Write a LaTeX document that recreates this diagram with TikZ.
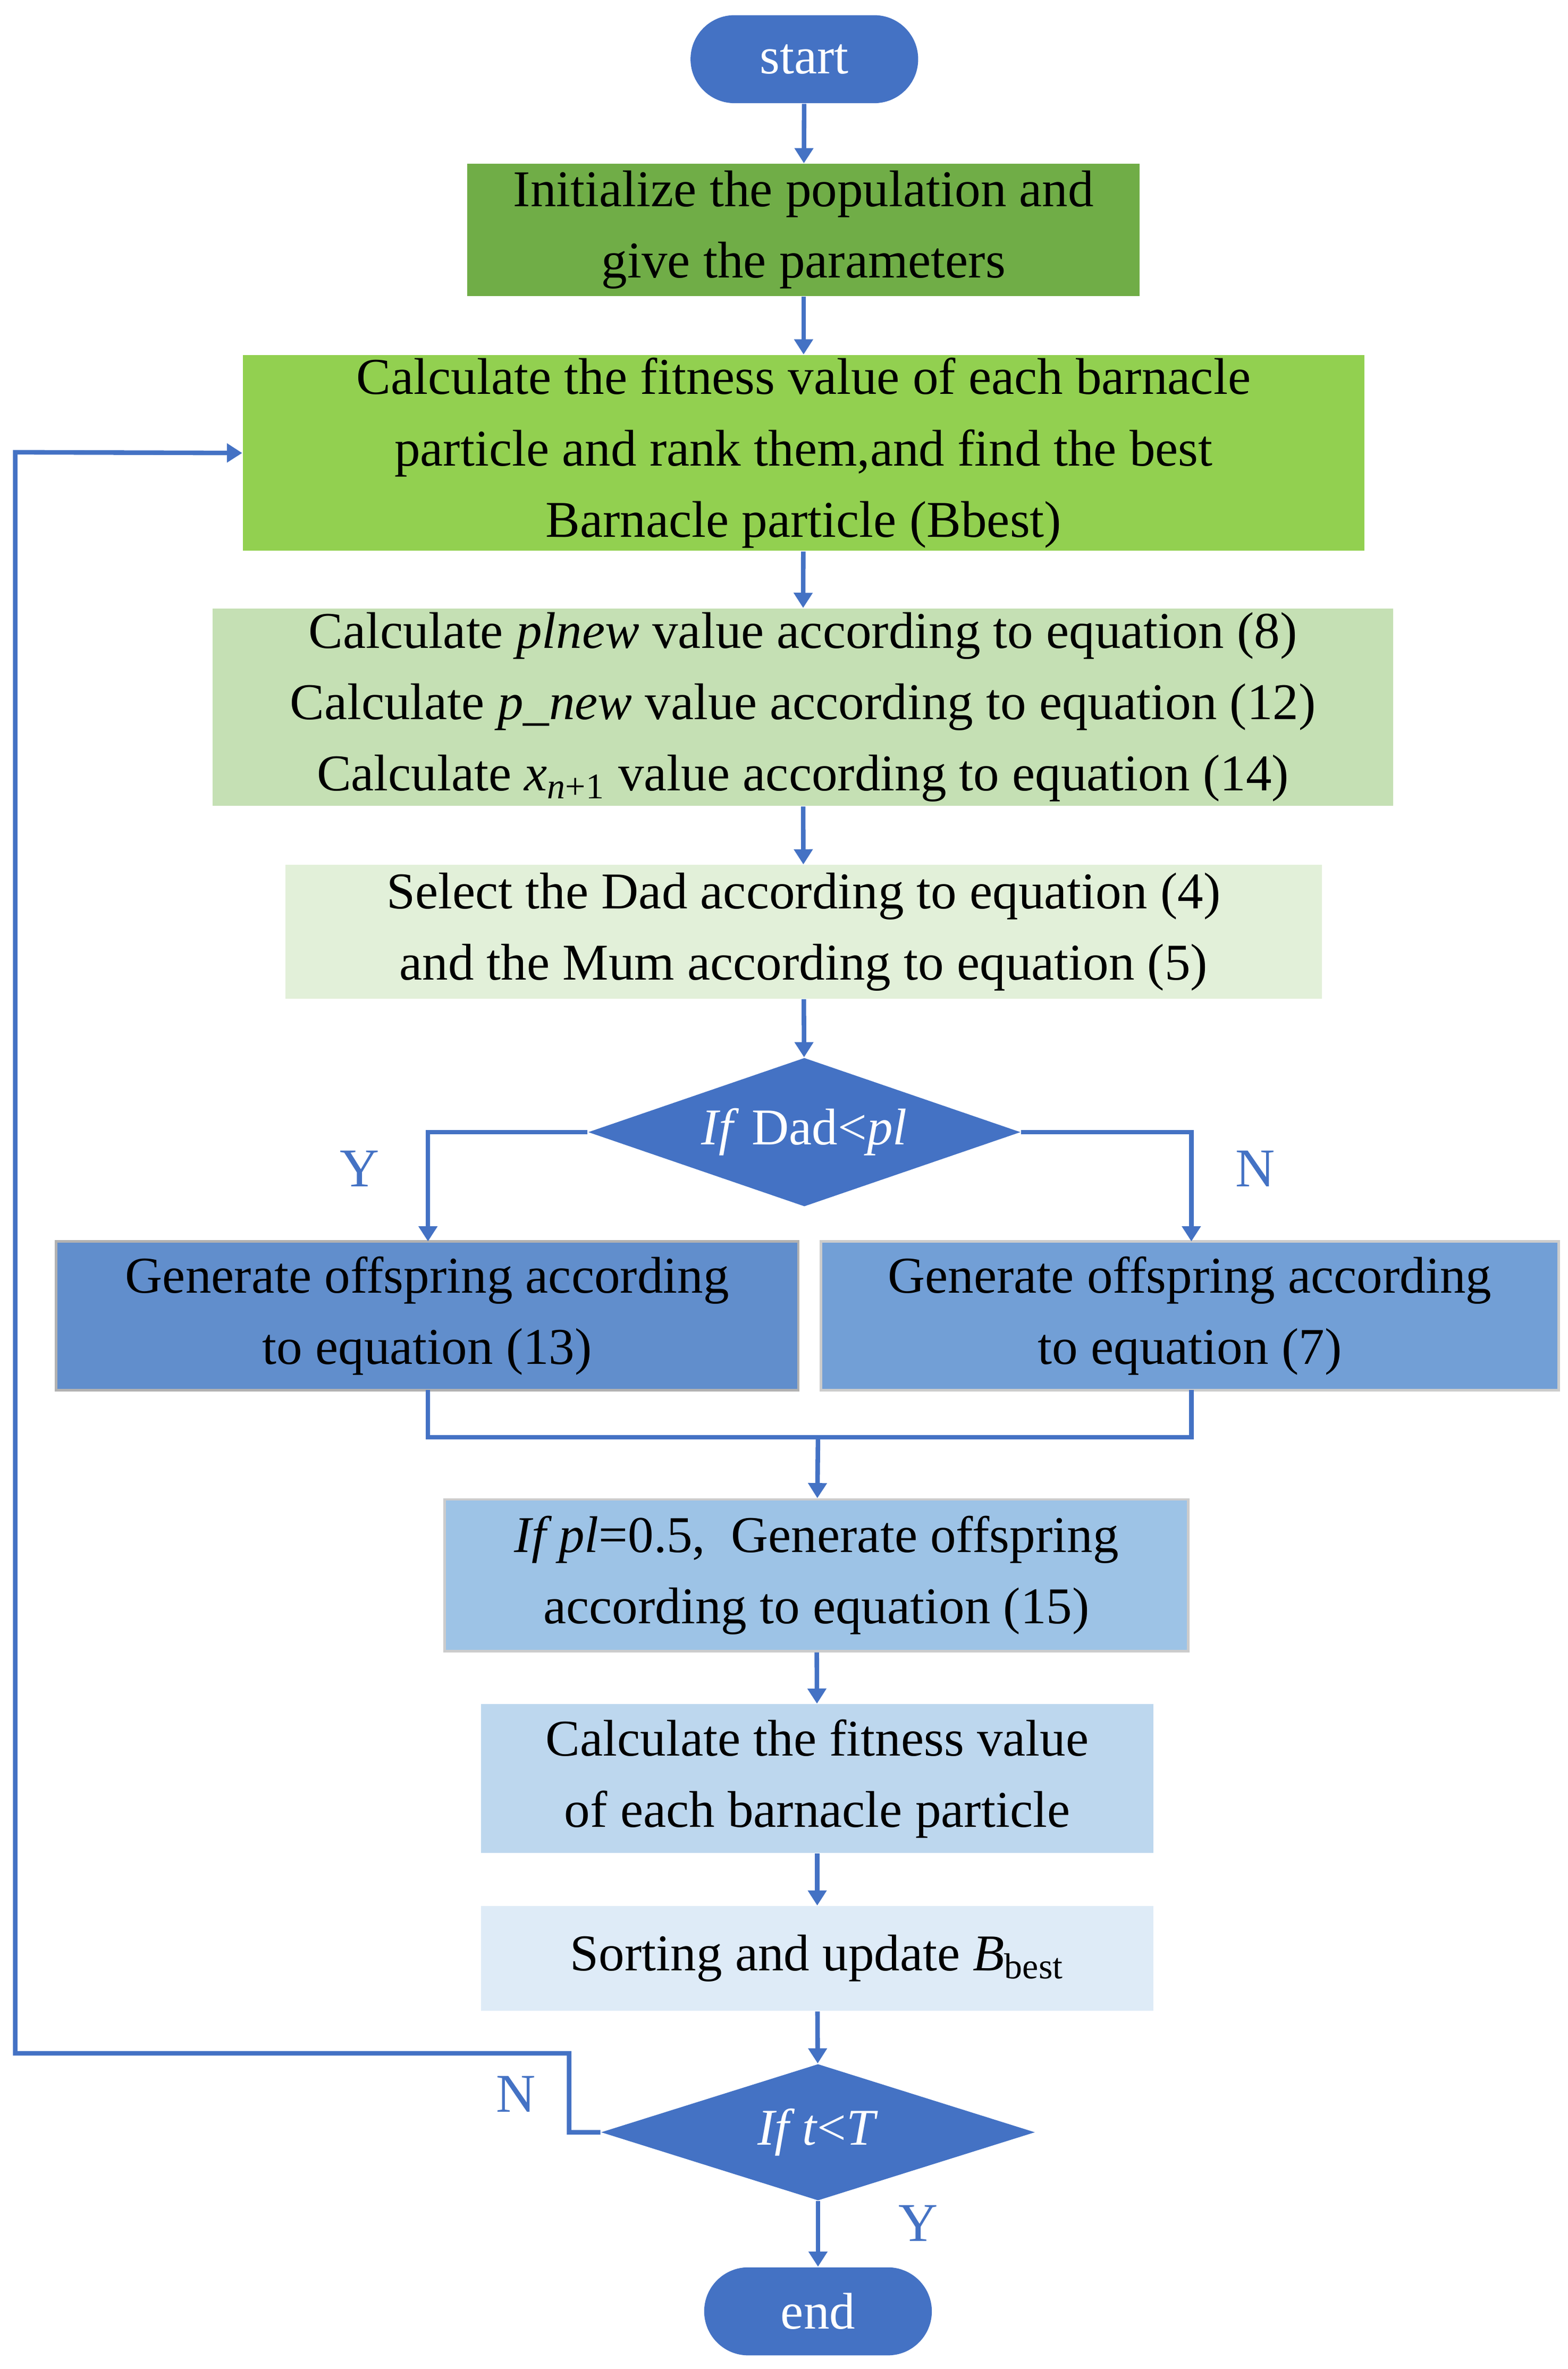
\documentclass[tikz,border=0pt]{standalone}
\usepackage{fontspec}
\setmainfont{Liberation Serif}
\usetikzlibrary{shapes.geometric,arrows.meta}
\definecolor{dblue}{HTML}{4472C4}
\begin{document}
\begin{tikzpicture}[x=0.5pt,y=-0.5pt,
 box/.style={draw=none,inner sep=0pt,align=center,font=\fontsize{17}{23.5}\selectfont},
 pill/.style={rounded corners=14.5pt,fill=dblue,text=white,minimum width=75pt,minimum height=29pt,inner sep=0pt,font=\fontsize{17}{20}\selectfont},
 dia/.style={diamond,fill=dblue,text=white,inner sep=0pt,font=\fontsize{17}{20}\selectfont},
 arr/.style={draw=dblue,line width=1.5pt,-{Triangle[length=5pt,width=6pt]}},
 ln/.style={draw=dblue,line width=1.5pt},
 lab/.style={text=dblue,font=\fontsize{18}{20}\selectfont}]
\useasboundingbox (0,0) rectangle (1033,1561);
\node[pill] (start) at (530,39) {start};
\node[box,fill={rgb,255:red,112;green,173;blue,71},minimum width=221.5pt,minimum height=43.5pt] (init) at (529.5,151.5) {Initialize the population and\\give the parameters};
\node[box,fill={rgb,255:red,146;green,208;blue,80},minimum width=369.5pt,minimum height=64.5pt] (fit) at (529.5,298.5) {Calculate the fitness value of each barnacle\\particle and rank them,and find the best\\Barnacle particle (Bbest)};
\node[box,fill={rgb,255:red,197;green,224;blue,180},minimum width=389pt,minimum height=65pt] (pl) at (529,466) {Calculate \textit{plnew} value according to equation (8)\\Calculate \textit{p\_new} value according to equation (12)\\Calculate \textit{x}\textsubscript{\textit{n}+1} value according to equation (14)};
\node[box,fill={rgb,255:red,226;green,240;blue,217},minimum width=341.5pt,minimum height=44pt] (sel) at (529.5,614) {Select the Dad according to equation (4)\\and the Mum according to equation (5)};
\node[dia,minimum width=142.5pt,minimum height=49pt,aspect=2.9] (d1) at (530,746) {\textit{If} Dad<\textit{pl}};
\node[box,draw=gray!60,line width=0.8pt,fill={rgb,255:red,97;green,142;blue,204},minimum width=244.5pt,minimum height=49pt] (gl) at (281.5,867) {Generate offspring according\\to equation (13)};
\node[box,draw=gray!40,line width=0.8pt,fill={rgb,255:red,114;green,159;blue,214},minimum width=243pt,minimum height=49pt] (gr) at (784,867) {Generate offspring according\\to equation (7)};
\coordinate (m) at (539,947);
\node[box,draw=gray!40,line width=0.8pt,fill={rgb,255:red,157;green,195;blue,230},minimum width=245pt,minimum height=50pt] (p5) at (538,1038) {\textit{If pl}=0.5,\enspace Generate offspring\\according to equation (15)};
\node[box,fill={rgb,255:red,189;green,215;blue,238},minimum width=221.5pt,minimum height=49pt] (f2) at (538.5,1172) {Calculate the fitness value\\of each barnacle particle};
\node[box,fill={rgb,255:red,222;green,235;blue,247},minimum width=221.5pt,minimum height=34.5pt] (srt) at (538.5,1290.5) {Sorting and update \textit{B}\textsubscript{best}};
\node[dia,minimum width=143pt,minimum height=45pt,aspect=3.2] (d2) at (539,1405) {\textit{If t}<\textit{T}};
\node[pill] (end) at (539,1523) {end};
\draw[arr] (start) -- (init);
\draw[arr] (init) -- (fit);
\draw[arr] (fit) -- (pl);
\draw[arr] (pl) -- (sel);
\draw[arr] (sel) -- (d1);
\draw[arr] (d1.west) -- (282,746) -- (282,818);
\draw[arr] (d1.east) -- (785,746) -- (785,818);
\draw[ln] (282,916) -- (282,947) -- (785,947) -- (785,916);
\draw[arr] (m) -- (p5);
\draw[arr] (p5) -- (f2);
\draw[arr] (f2) -- (srt);
\draw[arr] (srt) -- (d2);
\draw[arr] (d2) -- (end);
\draw[arr] (d2.west) -- (375,1405) -- (375,1353) -- (10,1353) -- (10,298) -- (fit.west);
\node[lab] at (237,770) {Y};
\node[lab] at (827,770) {N};
\node[lab] at (340,1380) {N};
\node[lab] at (605,1465) {Y};
\end{tikzpicture}
\end{document}
